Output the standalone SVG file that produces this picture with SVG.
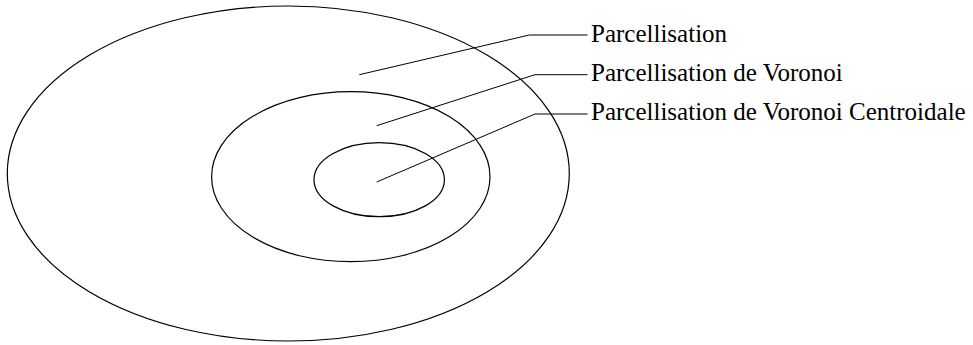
<svg xmlns="http://www.w3.org/2000/svg" width="973" height="345" viewBox="0 0 973 345">
<style>
.region{fill:none;stroke:#000;stroke-width:1.2}
.leader{fill:none;stroke:#000;stroke-width:1}
.label{font-family:"Liberation Serif","Times New Roman",serif;font-size:25px;fill:#000}
</style>
<rect width="973" height="345" fill="#fff"/>
<g id="parcellisation">
<ellipse class="region" cx="288.3" cy="173.5" rx="281" ry="167.5"/>
<text class="label" x="591" y="41.5">Parcellisation</text>
</g>
<g id="voronoi">
<ellipse class="region" cx="350.8" cy="176.7" rx="139.2" ry="85"/>
<text class="label" x="591" y="80.5">Parcellisation de Voronoi</text>
</g>
<g id="centroidale">
<ellipse class="region" cx="379.2" cy="179.7" rx="65.2" ry="37"/>
<text class="label" x="591" y="119.5">Parcellisation de Voronoi Centroidale</text>
</g>
<g id="connectors">
<polyline class="leader" points="359.3,74.7 529.3,35 587.5,35"/>
<polyline class="leader" points="376.7,125.7 535,74.7 587.5,74.7"/>
<polyline class="leader" points="376.7,182 535,114 587.5,114"/>
</g>
</svg>
